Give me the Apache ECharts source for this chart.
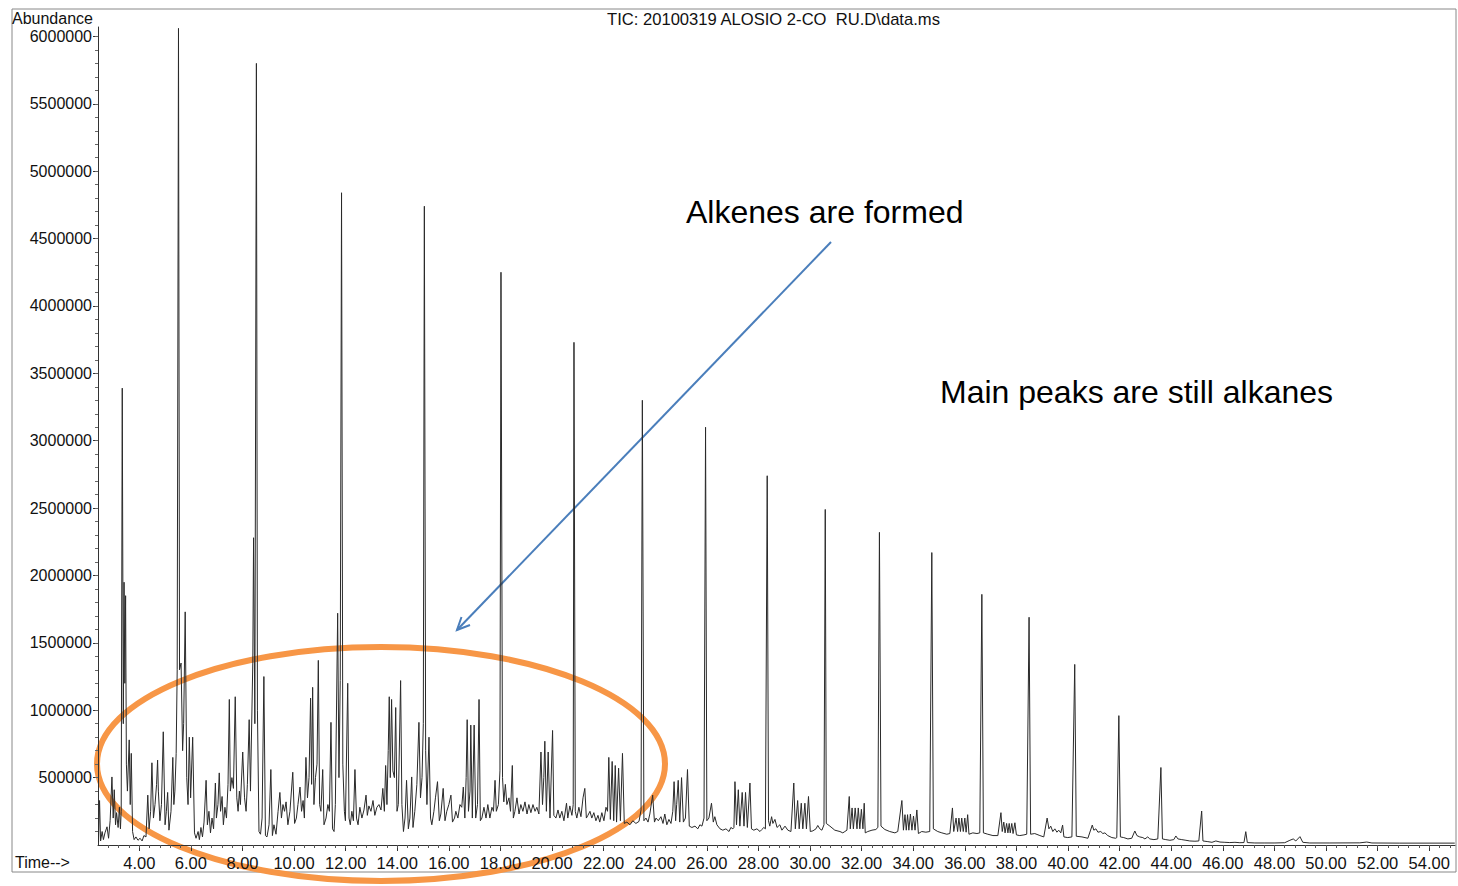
<!DOCTYPE html>
<html><head><meta charset="utf-8">
<script src="https://cdn.jsdelivr.net/npm/echarts/dist/echarts.min.js"></script>
<style>html,body{margin:0;padding:0;background:#fff;}#chart{width:1458px;height:886px;}</style>
</head><body><div id="chart"></div>
<script>
// ---- Tick labels ----
const titleText = 'TIC: 20100319 ALOSIO 2-CO\u00a0 RU.D\\data.ms';
const xMajorTicks = [4,6,8,10,12,14,16,18,20,22,24,26,28,30,32,34,36,38,40,42,44,46,48,50,52,54];
const yMajorTicks = [500000,1000000,1500000,2000000,2500000,3000000,3500000,4000000,4500000,5000000,5500000,6000000];

// ---- Chromatogram trace: [retention time (min), abundance] ----
const trace_2_6 = [[2.42,20000],[2.46,330000],[2.50,30000],[2.56,100000],[2.61,40000],[2.67,90000],[2.75,135000],[2.81,50000],[2.87,180000],[2.94,505000],[2.99,200000],[3.03,410000],[3.08,150000],[3.12,240000],[3.18,130000],[3.23,280000],[3.27,120000],[3.30,250000],[3.34,3390000],[3.38,900000],[3.41,1950000],[3.44,1200000],[3.47,1850000],[3.50,600000],[3.54,400000],[3.61,780000],[3.65,300000],[3.69,680000],[3.74,100000],[3.80,40000],[3.87,60000],[3.95,35000],[4.03,50000],[4.11,30000],[4.18,70000],
[4.26,60000],[4.33,370000],[4.38,120000],[4.44,250000],[4.49,610000],[4.55,200000],[4.61,300000],[4.67,450000],[4.71,630000],[4.74,400000],[4.80,180000],[4.86,300000],[4.93,840000],[5.00,150000],[5.05,250000],[5.10,390000],[5.15,110000],[5.23,250000],[5.30,650000],[5.34,300000],[5.38,400000],[5.43,680000],[5.47,1300000],[5.52,6060000],[5.56,1300000],[5.62,1350000],[5.68,700000],[5.72,900000],[5.78,1730000],[5.84,500000],[5.89,300000],[5.94,800000],[5.99,350000],[6.07,800000],[6.14,90000],[6.20,50000],[6.28,100000],[6.33,40000]];

const trace_6_12 = [[6.39,130000],[6.45,60000],[6.51,170000],[6.59,480000],[6.64,150000],[6.70,250000],[6.76,90000],[6.82,200000],[6.88,120000],[6.95,460000],[6.99,200000],[7.05,300000],[7.10,535000],[7.15,250000],[7.21,360000],[7.26,150000],[7.32,280000],[7.38,200000],[7.44,450000],[7.49,1080000],[7.53,400000],[7.59,500000],[7.65,420000],[7.72,1100000],[7.78,350000],[7.83,250000],[7.88,400000],[7.92,300000],[8.01,690000],[8.08,350000],[8.14,250000],[8.19,450000],[8.26,930000],[8.31,400000],[8.40,1350000],[8.43,2280000],[8.48,900000],[8.54,5800000],[8.58,1000000],[8.64,100000],[8.70,80000],[8.76,200000],[8.83,1250000],[8.89,70000],[8.95,60000],[9.03,150000],[9.10,560000],[9.16,70000],
[9.22,150000],[9.30,80000],[9.38,250000],[9.45,390000],[9.51,200000],[9.57,300000],[9.63,250000],[9.69,320000],[9.76,150000],[9.84,250000],[9.95,540000],[10.02,160000],[10.09,200000],[10.15,300000],[10.23,430000],[10.29,250000],[10.35,330000],[10.40,200000],[10.46,650000],[10.52,350000],[10.58,500000],[10.64,1090000],[10.68,450000],[10.72,1170000],[10.77,300000],[10.83,500000],[10.89,600000],[10.94,1370000],[10.99,300000],[11.04,250000],[11.11,560000],[11.16,150000],[11.24,200000],[11.31,300000],[11.37,250000],[11.43,910000],[11.49,120000],[11.55,100000],[11.60,300000],[11.69,1720000],[11.74,500000],[11.79,1220000],[11.84,4840000],[11.89,600000],[11.95,250000],[11.99,180000]];

const trace_12_18 = [[12.08,1200000],[12.13,200000],[12.18,150000],[12.24,250000],[12.30,180000],[12.36,560000],[12.42,200000],[12.48,150000],[12.55,280000],[12.63,200000],[12.71,260000],[12.79,370000],[12.84,220000],[12.90,290000],[12.98,250000],[13.06,330000],[13.13,220000],[13.21,280000],[13.29,300000],[13.37,260000],[13.44,420000],[13.50,250000],[13.55,590000],[13.60,300000],[13.65,700000],[13.69,1100000],[13.73,500000],[13.78,1080000],[13.83,550000],[13.89,500000],[13.94,1020000],[13.99,250000],[14.04,300000],[14.13,1220000],[14.18,300000],[14.24,100000],[14.30,200000],[14.36,480000],[14.43,120000],[14.49,200000],[14.56,505000],[14.61,130000],[14.68,250000],[14.76,450000],[14.84,910000],[14.90,350000],[14.96,500000],[15.01,900000],[15.05,4740000],[15.10,700000],[15.15,300000],[15.23,800000],[15.29,200000],
[15.34,150000],[15.42,250000],[15.48,350000],[15.56,470000],[15.63,180000],[15.69,230000],[15.78,420000],[15.85,180000],[15.92,250000],[16.00,300000],[16.08,370000],[16.14,170000],[16.22,200000],[16.27,250000],[16.35,200000],[16.43,300000],[16.50,280000],[16.56,430000],[16.62,200000],[16.67,500000],[16.71,930000],[16.76,250000],[16.82,400000],[16.85,890000],[16.91,200000],[16.98,890000],[17.04,200000],[17.11,300000],[17.17,1080000],[17.22,180000],[17.28,200000],[17.36,280000],[17.44,200000],[17.51,300000],[17.59,200000],[17.67,280000],[17.73,250000],[17.79,480000],[17.84,250000],[17.92,300000],[17.98,550000],[18.02,4250000],[18.08,500000],[18.13,320000],[18.19,450000],[18.25,300000],[18.33,350000],[18.39,250000],[18.46,590000],[18.50,200000]];

const trace_18_27 = [[18.56,250000],[18.64,350000],[18.72,230000],[18.79,300000],[18.87,250000],[18.95,320000],[19.03,230000],[19.10,300000],[19.18,240000],[19.26,300000],[19.34,250000],[19.41,280000],[19.49,230000],[19.57,690000],[19.63,300000],[19.68,500000],[19.72,770000],[19.78,250000],[19.85,690000],[19.92,200000],[20.02,850000],[20.07,220000],[20.15,200000],[20.23,260000],[20.30,200000],[20.38,250000],[20.46,180000],[20.56,310000],[20.61,200000],[20.69,290000],[20.77,220000],[20.82,300000],[20.85,3730000],[20.90,250000],
[20.96,200000],[21.04,280000],[21.12,210000],[21.20,350000],[21.27,420000],[21.33,200000],[21.39,220000],[21.47,250000],[21.54,200000],[21.62,240000],[21.70,180000],[21.78,220000],[21.85,170000],[21.93,240000],[22.01,180000],[22.09,280000],[22.15,250000],[22.20,650000],[22.26,190000],[22.33,620000],[22.39,180000],[22.45,590000],[22.50,170000],[22.58,570000],[22.65,180000],[22.73,680000],[22.80,160000],[22.90,170000],[23.02,150000],[23.13,180000],[23.25,160000],[23.37,175000],[23.45,260000],[23.50,3300000],[23.56,180000],
[23.64,200000],[23.72,170000],[23.79,230000],[23.90,370000],[23.97,170000],[24.03,200000],[24.12,180000],[24.22,210000],[24.30,160000],[24.37,230000],[24.45,150000],[24.53,190000],[24.61,160000],[24.68,250000],[24.73,470000],[24.79,180000],[24.83,300000],[24.89,480000],[24.95,170000],[25.02,500000],[25.09,170000],[25.17,200000],[25.25,560000],[25.32,140000],[25.42,130000],[25.54,140000],[25.65,120000],[25.73,150000],[25.81,140000],[25.89,200000],[25.95,3100000],[26.00,180000],[26.08,200000],[26.18,310000],[26.25,170000],[26.31,210000],[26.39,150000],[26.51,120000],[26.62,110000],[26.74,120000],[26.86,100000],[26.93,130000],[27.01,120000]];

const trace_27_42 = [[27.05,130000],[27.09,470000],[27.15,150000],[27.22,410000],[27.28,140000],[27.37,390000],[27.44,140000],[27.50,390000],[27.57,130000],[27.67,460000],[27.73,120000],[27.82,110000],[27.94,120000],[28.06,100000],[28.13,115000],[28.21,130000],[28.27,120000],[28.34,2740000],[28.39,180000],[28.44,140000],[28.51,210000],[28.56,160000],[28.64,190000],[28.72,130000],[28.83,150000],[28.91,110000],[29.03,140000],[29.14,110000],[29.26,100000],[29.37,460000],[29.43,120000],[29.52,330000],[29.58,120000],[29.66,310000],[29.72,120000],[29.80,310000],[29.86,120000],[29.94,360000],[30.01,100000],[30.11,105000],[30.23,120000],[30.30,145000],[30.38,120000],[30.46,110000],[30.54,150000],[30.59,2490000],[30.63,160000],[30.77,140000],[30.96,110000],[31.16,100000],[31.27,90000],[31.35,100000],[31.43,110000],[31.52,360000],[31.56,120000],[31.63,275000],[31.68,120000],[31.75,275000],[31.82,120000],[31.87,275000],[31.93,120000],[31.99,265000],[32.05,120000],[32.10,310000],[32.14,90000],[32.24,100000],[32.40,110000],[32.55,115000],[32.63,130000],[32.69,2320000],[32.75,140000],[32.90,115000],[33.09,100000],[33.29,90000],[33.40,100000],[33.56,330000],[33.62,110000],[33.68,225000],[33.73,110000],[33.78,225000],[33.83,110000],[33.89,230000],[33.95,110000],[34.01,215000],[34.07,110000],[34.14,260000],[34.20,85000],[34.33,100000],[34.49,95000],[34.64,100000],[34.72,2170000],[34.78,120000],[34.95,100000],[35.11,90000],[35.30,80000],[35.42,85000],[35.52,275000],[35.57,100000],[35.66,200000],[35.72,100000],[35.77,200000],[35.83,100000],[35.88,200000],[35.94,100000],[36.00,200000],[36.05,95000],[36.11,225000],[36.16,80000],[36.31,90000],[36.47,85000],[36.58,90000],[36.66,1860000],[36.72,90000],[36.89,80000],[37.09,70000],[37.28,70000],[37.40,240000],[37.45,100000],[37.51,170000],[37.56,90000],[37.62,160000],[37.67,90000],[37.72,160000],[37.76,90000],[37.82,160000],[37.87,85000],[37.94,165000],[38.00,75000],[38.13,70000],[38.29,75000],[38.40,80000],[38.49,1690000],[38.55,80000],[38.71,85000],[38.91,70000],[39.06,60000],[39.19,200000],[39.26,120000],[39.33,140000],[39.41,100000],[39.49,120000],[39.57,95000],[39.64,110000],[39.72,90000],[39.79,148000],[39.84,60000],[39.99,55000],[40.15,60000],[40.26,1340000],[40.32,65000],[40.54,60000],[40.77,50000],[40.94,148000],[41.00,110000],[41.08,120000],[41.16,95000],[41.27,100000],[41.35,85000],[41.43,90000],[41.54,70000],[41.70,55000],[41.85,50000]];

const trace_42_55 = [[41.89,55000],[41.97,960000],[42.03,60000],[42.16,55000],[42.32,45000],[42.47,50000],[42.59,104000],[42.67,70000],[42.78,60000],[42.90,55000],[42.98,45000],[43.09,60000],[43.17,45000],[43.33,40000],[43.48,45000],[43.60,575000],[43.66,45000],[43.79,40000],[43.95,35000],[44.10,40000],[44.18,67000],[44.26,45000],[44.41,40000],[44.57,35000],[44.72,30000],[44.92,28000],[45.07,30000],[45.18,252000],[45.23,30000],[45.42,25000],[45.58,20000],[45.73,30000],[45.89,22000],[46.08,20000],[46.27,18000],[46.47,20000],[46.66,17000],[46.82,18000],[46.89,99000],[46.95,18000],[47.24,15000],[47.63,15000],[48.02,15000],[48.40,17000],[48.60,35000],[48.73,45000],[48.83,30000],[48.99,62000],[49.10,20000],[49.37,15000],[50.15,15000],[51.31,16000],[51.58,22000],[51.78,15000],[52.86,14000],[54.03,14000],[54.99,14000]];

const traceData = [].concat(trace_2_6, trace_6_12, trace_12_18, trace_18_27, trace_27_42, trace_42_55);

// minor tick positions (axis decoration)
const xMinorTicks = []; for (let i = 7; i <= 137; i++) xMinorTicks.push(+(i * 0.4).toFixed(1));
const yMinorTicks = []; for (let i = 1; i <= 60; i++) yMinorTicks.push(i * 100000);

const FONT = '"Liberation Sans", Arial, sans-serif';
const chart = echarts.init(document.getElementById('chart'), null, {renderer: 'svg'});
chart.setOption({
  animation: false,
  backgroundColor: '#fff',
  title: {text: titleText, left: 607, top: 11, padding: 0,
    textStyle: {fontFamily: FONT, fontSize: 16.6, fontWeight: 'normal', color: '#111'}},
  grid: {left: 98, right: 3, top: 27, bottom: 41, containLabel: false},
  xAxis: [{
    type: 'value', min: 2.4, max: 55, position: 'bottom',
    axisLine: {show: true, onZero: false, lineStyle: {color: '#333', width: 1}},
    axisTick: {show: true, customValues: xMajorTicks, length: 6, lineStyle: {color: '#333'}},
    axisLabel: {customValues: xMajorTicks, margin: 9, formatter: v => v.toFixed(2),
      fontFamily: FONT, fontSize: 16.5, color: '#111'},
    splitLine: {show: false}
  }, {
    type: 'value', min: 2.4, max: 55, position: 'bottom',
    axisLine: {show: false, onZero: false},
    axisTick: {show: true, customValues: xMinorTicks, length: 3, lineStyle: {color: '#555'}},
    axisLabel: {show: false}, splitLine: {show: false}
  }],
  yAxis: [{
    type: 'value', min: 0, max: 6070000, position: 'left',
    axisLine: {show: true, onZero: false, lineStyle: {color: '#333', width: 1}},
    axisTick: {show: true, customValues: yMajorTicks, length: 5, lineStyle: {color: '#333'}},
    axisLabel: {customValues: yMajorTicks, margin: 6, formatter: v => String(v),
      fontFamily: FONT, fontSize: 16, color: '#111'},
    splitLine: {show: false}
  }, {
    type: 'value', min: 0, max: 6070000, position: 'left',
    axisLine: {show: false, onZero: false},
    axisTick: {show: true, customValues: yMinorTicks, length: 3, lineStyle: {color: '#666'}},
    axisLabel: {show: false}, splitLine: {show: false}
  }],
  series: [{
    type: 'line', xAxisIndex: 0, yAxisIndex: 0, data: traceData,
    showSymbol: false, symbol: 'none', sampling: null, smooth: false,
    lineStyle: {color: '#2a2a2a', width: 1}
  }],
  graphic: [
    {type: 'rect', shape: {x: 12, y: 9, width: 1444, height: 863},
      style: {fill: 'none', stroke: '#888', lineWidth: 1}, silent: true},
    {type: 'text', left: 12, top: 10, style: {text: 'Abundance', font: '16px ' + FONT, fill: '#111'}},
    {type: 'text', left: 15, top: 854, style: {text: 'Time-->', font: '16px ' + FONT, fill: '#111'}},
    {type: 'text', left: 686, top: 196, style: {text: 'Alkenes are formed', font: '32px ' + FONT, fill: '#000'}},
    {type: 'text', left: 940, top: 376, style: {text: 'Main peaks are still alkanes', font: '32px ' + FONT, fill: '#000'}},
    {type: 'line', shape: {x1: 831, y1: 242, x2: 457, y2: 630},
      style: {stroke: '#4a7ebb', lineWidth: 2}},
    {type: 'polyline', shape: {points: [[470, 625], [457, 630], [461.5, 617]]},
      style: {stroke: '#4a7ebb', lineWidth: 2, fill: 'none'}},
    {type: 'ellipse', shape: {cx: 381, cy: 764, rx: 284, ry: 117},
      style: {fill: 'none', stroke: '#f79646', lineWidth: 6}}
  ]
});
</script></body></html>
